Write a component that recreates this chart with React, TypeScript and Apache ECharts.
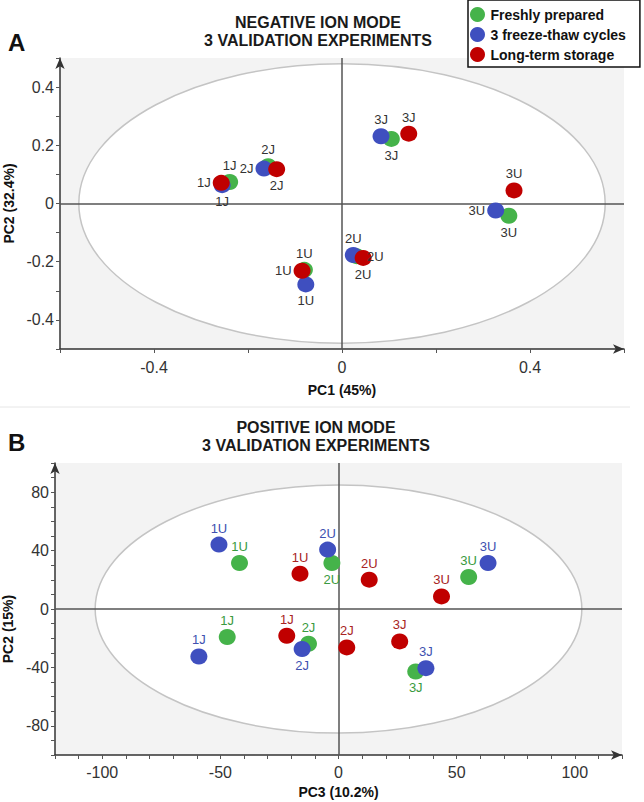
import React, { useEffect, useRef } from "react";
import * as echarts from "echarts";

const FONT = "'Liberation Sans', Arial, sans-serif";

const groupNames = ["Freshly prepared", "3 freeze-thaw cycles", "Long-term storage"];
const groupColors = ["#45b34a", "#3f4fbf", "#c00000"];
const labelColorsB = ["#3a9a40", "#4050b0", "#a82424"];

// Panel A — negative ion mode (PC1 vs PC2)
const pointLabelsA = ["1J", "2J", "3J", "1U", "2U", "3U"];
const freshAx = [-0.239, -0.157, 0.105, -0.080, 0.031, 0.355];
const freshAy = [0.074, 0.128, 0.222, -0.228, -0.181, -0.042];
const freezeAx = [-0.255, -0.166, 0.083, -0.077, 0.024, 0.327];
const freezeAy = [0.063, 0.12, 0.231, -0.278, -0.177, -0.024];
const longAx = [-0.257, -0.139, 0.142, -0.085, 0.045, 0.366];
const longAy = [0.071, 0.118, 0.24, -0.231, -0.187, 0.045];
const ellipseA = [0.56, 0.48];
const xTicksA = [-0.4, 0, 0.4];
const yTicksA = [-0.4, -0.2, 0, 0.2, 0.4];

// Panel B — positive ion mode (PC3 vs PC2)
const pointLabelsB = ["1J", "2J", "3J", "1U", "2U", "3U"];
const freshBx = [-47.1, -12.7, 32.7, -41.9, -2.8, 55.1];
const freshBy = [-19.2, -23.8, -42.8, 31.5, 31.5, 21.9];
const freezeBx = [-59.1, -15.4, 37.0, -50.6, -4.6, 63.3];
const freezeBy = [-32.5, -27.4, -40.5, 44.1, 40.7, 31.5];
const longBx = [-21.9, 3.5, 25.9, -16.3, 13.0, 43.6];
const longBy = [-18.3, -26.3, -22.2, 24.2, 20.1, 8.6];
const ellipseB = [103, 85];
const xTicksB = [-100, -50, 0, 50, 100];
const yTicksB = [-80, -40, 0, 40, 80];

// label placement (style, not data)
const posA = [
  ["top", "top", "bottom", "top", "right", "bottom"],
  ["bottom", "left", "top", "bottom", "top", "left"],
  ["left", "bottom", "top", "left", "bottom", "top"],
];
const posB = [
  ["top", "top", "bottom", "top", "bottom", "top"],
  ["top", "bottom", "top", "top", "top", "top"],
  ["top", "top", "top", "top", "top", "top"],
];

const fmtTick = (ticks: number[]) => (v: number) =>
  ticks.some((t) => Math.abs(t - v) < 1e-6) ? String(+v.toFixed(2)) : "";

function axisBase(ticks: number[], margin: number) {
  return {
    type: "value",
    splitLine: { show: false },
    axisLine: {
      show: true,
      onZero: false,
      symbol: ["none", "arrow"],
      symbolSize: [7, 11],
      lineStyle: { color: "#333", width: 1.5 },
    },
    axisTick: { show: true, length: 4, lineStyle: { color: "#555", width: 1 } },
    axisLabel: {
      formatter: fmtTick(ticks),
      color: "#333",
      fontSize: 16,
      fontFamily: FONT,
      margin,
      showMinLabel: true,
      showMaxLabel: true,
    },
    nameLocation: "middle",
    nameTextStyle: { color: "#111", fontSize: 14, fontWeight: "bold", fontFamily: FONT },
  };
}

function ellipseSeries(axisIndex: number, radii: number[]) {
  return {
    type: "custom",
    xAxisIndex: axisIndex,
    yAxisIndex: axisIndex,
    z: 1,
    silent: true,
    clip: false,
    data: [[0, 0]],
    renderItem: (params: any, api: any) => {
      const c = api.coord([0, 0]);
      const s = api.size([radii[0], radii[1]]);
      return {
        type: "ellipse",
        shape: { cx: c[0], cy: c[1], rx: s[0], ry: s[1] },
        style: { fill: "#ffffff", stroke: "#c4c4c4", lineWidth: 1.5 },
      };
    },
    markLine: {
      silent: true,
      symbol: ["none", "none"],
      label: { show: false },
      lineStyle: { color: "#555", width: 1.5, type: "solid" },
      data: [{ xAxis: 0 }, { yAxis: 0 }],
    },
  };
}

function scatterSeries(
  axisIndex: number,
  gi: number,
  xs: number[],
  ys: number[],
  labels: string[],
  positions: string[],
  labelColor: string
) {
  return {
    type: "scatter",
    name: groupNames[gi],
    xAxisIndex: axisIndex,
    yAxisIndex: axisIndex,
    z: 10,
    symbol: "circle",
    symbolSize: [17, 16],
    itemStyle: { color: groupColors[gi], opacity: 1 },
    data: xs.map((x, i) => ({
      value: [x, ys[i]],
      name: labels[i],
      label: { position: positions[i] },
    })),
    label: {
      show: true,
      formatter: "{b}",
      color: labelColor,
      fontSize: 13,
      fontFamily: FONT,
      distance: 2,
    },
  };
}

export default function App() {
  const ref = useRef<HTMLDivElement>(null);
  useEffect(() => {
    if (!ref.current) return;
    const chart = echarts.init(ref.current, null, { renderer: "svg" });
    const titleStyle = { fontSize: 16, fontWeight: "bold", lineHeight: 18, color: "#1a1a1a", fontFamily: FONT };
    const letterStyle = { fontSize: 24, fontWeight: "bold", color: "#111", fontFamily: FONT };
    chart.setOption({
      animation: false,
      backgroundColor: "#ffffff",
      title: [
        { text: "NEGATIVE ION MODE\n3 VALIDATION EXPERIMENTS", left: 318, top: 13, textAlign: "center", textStyle: titleStyle, padding: 0 },
        { text: "A", left: 8, top: 30, textStyle: letterStyle, padding: 0 },
        { text: "POSITIVE ION MODE\n3 VALIDATION EXPERIMENTS", left: 316, top: 418, textAlign: "center", textStyle: titleStyle, padding: 0 },
        { text: "B", left: 8, top: 430, textStyle: letterStyle, padding: 0 },
      ],
      legend: {
        orient: "vertical",
        left: 468,
        top: 0,
        data: groupNames,
        icon: "circle",
        itemWidth: 16,
        itemHeight: 15,
        itemGap: 5,
        padding: [7, 14, 5, 2],
        borderColor: "#111",
        borderWidth: 1.5,
        backgroundColor: "#ffffff",
        selectedMode: false,
        textStyle: { fontSize: 14, fontWeight: "bold", color: "#111", fontFamily: FONT },
      },
      graphic: [
        { type: "line", shape: { x1: 0, y1: 407, x2: 630, y2: 407 }, style: { stroke: "#e6e6e6", lineWidth: 1 } },
      ],
      grid: [
        { left: 60, top: 58, width: 564, height: 291, show: true, backgroundColor: "#f3f3f3", borderWidth: 0, containLabel: false, outerBoundsMode: "none" },
        { left: 55, top: 463, width: 567, height: 292, show: true, backgroundColor: "#f3f3f3", borderWidth: 0, containLabel: false, outerBoundsMode: "none" },
      ],
      xAxis: [
        {
          ...axisBase(xTicksA, 10),
          gridIndex: 0,
          min: -0.6,
          max: 0.6,
          interval: 0.2,
          name: "PC1 (45%)",
          nameGap: 34,
        },
        {
          ...axisBase(xTicksB, 9),
          gridIndex: 1,
          min: -120,
          max: 120,
          interval: 10,
          name: "PC3 (10.2%)",
          nameGap: 30,
        },
      ],
      yAxis: [
        {
          ...axisBase(yTicksA, 6),
          gridIndex: 0,
          min: -0.5,
          max: 0.5,
          interval: 0.1,
          name: "PC2 (32.4%)",
          nameGap: 40,
        },
        {
          ...axisBase(yTicksB, 6),
          gridIndex: 1,
          min: -100,
          max: 100,
          interval: 10,
          name: "PC2 (15%)",
          nameGap: 36,
          nameTextStyle: { ...axisBase(yTicksB, 6).nameTextStyle, padding: [0, 40, 0, 0] },
        },
      ],
      series: [
        ellipseSeries(0, ellipseA),
        scatterSeries(0, 0, freshAx, freshAy, pointLabelsA, posA[0], "#333"),
        scatterSeries(0, 1, freezeAx, freezeAy, pointLabelsA, posA[1], "#333"),
        scatterSeries(0, 2, longAx, longAy, pointLabelsA, posA[2], "#333"),
        ellipseSeries(1, ellipseB),
        scatterSeries(1, 0, freshBx, freshBy, pointLabelsB, posB[0], labelColorsB[0]),
        scatterSeries(1, 1, freezeBx, freezeBy, pointLabelsB, posB[1], labelColorsB[1]),
        scatterSeries(1, 2, longBx, longBy, pointLabelsB, posB[2], labelColorsB[2]),
      ],
    });
    return () => chart.dispose();
  }, []);
  return <div ref={ref} style={{ position: "absolute", left: 0, top: 0, width: 644, height: 802 }} />;
}
